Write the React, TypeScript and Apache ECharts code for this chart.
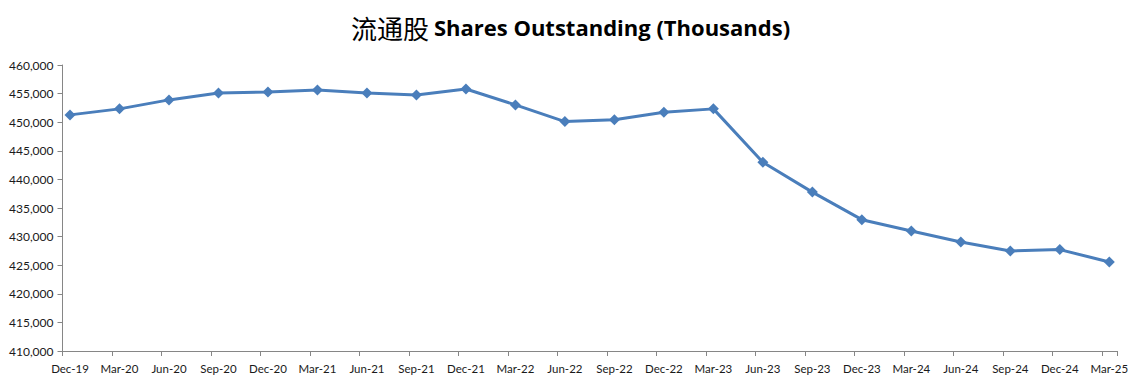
import React, { useEffect, useRef } from "react";
import * as echarts from "echarts";

const categories = [
  "Dec-19", "Mar-20", "Jun-20", "Sep-20", "Dec-20", "Mar-21", "Jun-21", "Sep-21",
  "Dec-21", "Mar-22", "Jun-22", "Sep-22", "Dec-22", "Mar-23", "Jun-23", "Sep-23",
  "Dec-23", "Mar-24", "Jun-24", "Sep-24", "Dec-24", "Mar-25",
];

const sharesOutstanding = [
  451280, 452330, 453900, 455120, 455290, 455640, 455120, 454770,
  455810, 453020, 450110, 450410, 451730, 452330, 443010, 437780,
  432960, 430980, 429060, 427490, 427730, 425570,
];

const yMin = 410000;
const yMax = 460000;
const yStep = 5000;

const fmt = (v: number) => v.toLocaleString("en-US");

export default function App() {
  const ref = useRef<HTMLDivElement>(null);
  useEffect(() => {
    if (!ref.current) return;
    const chart = echarts.init(ref.current, null, { renderer: "svg" });
    const fontFamily = "Lato, 'Open Sans', sans-serif";
    chart.setOption({
      animation: false,
      backgroundColor: "#ffffff",
      title: {
        text: "{cjk|流通股} {en|Shares Outstanding (Thousands)}",
        left: "center",
        top: 9,
        textStyle: {
          rich: {
            cjk: { fontFamily: "'Noto Sans CJK SC'", fontSize: 26, fontWeight: "normal", color: "#000" },
            en: { fontFamily: "'Open Sans', Lato, sans-serif", fontSize: 22, fontWeight: "bold", color: "#000" },
          },
        },
      },
      grid: [
        { left: 70, right: 31.7, top: 65, bottom: 36 },
        { left: 62.5, right: 24, top: 65, bottom: 36 },
      ],
      xAxis: [
        {
          type: "category",
          gridIndex: 0,
          data: categories,
          boundaryGap: false,
          axisLine: { show: false },
          axisTick: { show: false },
          axisLabel: { fontFamily, fontSize: 11.5, color: "#1a1a1a", margin: 11, interval: 0 },
          splitLine: { show: false },
        },
        {
          type: "value",
          gridIndex: 1,
          min: 0,
          max: 21.3,
          interval: 1,
          axisLine: { show: true, lineStyle: { color: "#868686", width: 1 } },
          axisTick: { show: true, length: 5, lineStyle: { color: "#868686" } },
          axisLabel: { show: false },
          splitLine: { show: false },
        },
      ],
      yAxis: [
        {
          type: "value",
          gridIndex: 0,
          min: yMin,
          max: yMax,
          interval: yStep,
          show: false,
          splitLine: { show: false },
        },
        {
          type: "value",
          gridIndex: 1,
          min: yMin,
          max: yMax,
          interval: yStep,
          axisLine: { show: true, lineStyle: { color: "#868686", width: 1 } },
          axisTick: { show: true, length: 5, lineStyle: { color: "#868686" } },
          axisLabel: { fontFamily, fontSize: 12, color: "#1a1a1a", margin: 9, formatter: (v: number) => fmt(v) },
          splitLine: { show: false },
        },
      ],
      series: [
        {
          type: "line",
          xAxisIndex: 0,
          yAxisIndex: 0,
          data: sharesOutstanding,
          symbol: "diamond",
          symbolSize: 11,
          lineStyle: { color: "#4a7ebb", width: 3 },
          itemStyle: { color: "#4a7ebb" },
        },
      ],
    });
    return () => chart.dispose();
  }, []);
  return <div ref={ref} style={{ width: 1141, height: 387, position: "absolute", left: 0, top: 0 }} />;
}
